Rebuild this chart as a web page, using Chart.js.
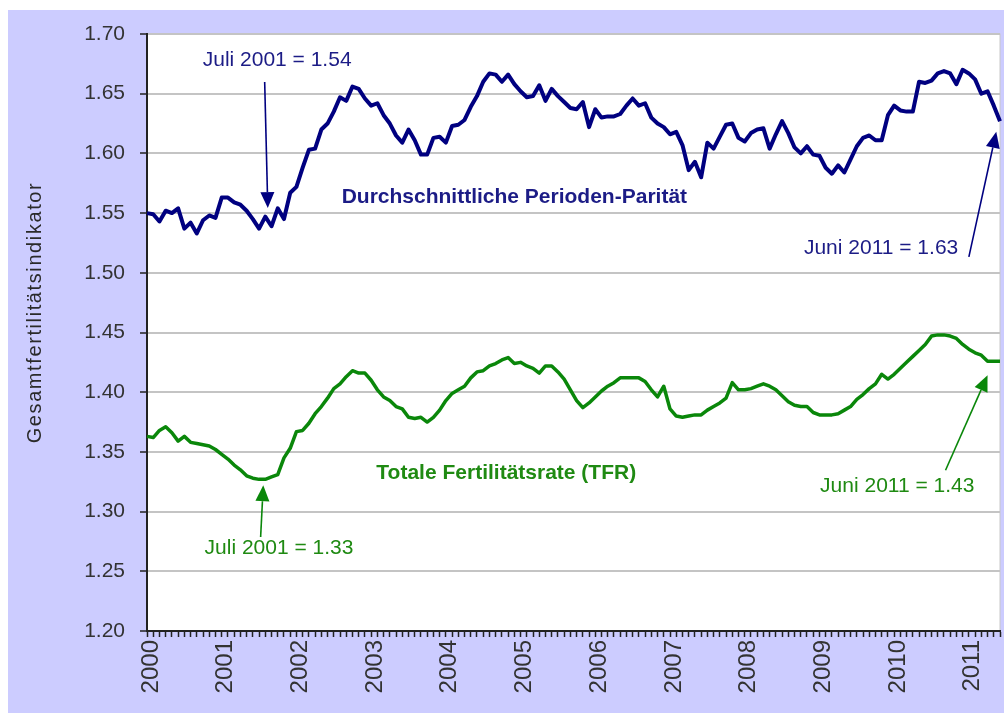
<!DOCTYPE html>
<html>
<head>
<meta charset="utf-8">
<script src="https://cdn.jsdelivr.net/npm/chart.js@4"></script>
<style>
  html, body { margin: 0; padding: 0; background: #fff; }
  #wrap { width: 1004px; height: 713px; }
</style>
</head>
<body>
<div id="wrap"><canvas id="myChart" width="1004" height="713"></canvas></div>
<script>
// ============== data ==============
const years = ["2000", "2001", "2002", "2003", "2004", "2005", "2006", "2007", "2008", "2009", "2010", "2011"];
const monthNames = ["01", "02", "03", "04", "05", "06", "07", "08", "09", "10", "11", "12"];
const lastMonth = "2011-06";

// Durchschnittliche Perioden-Parität, monthly Jan 2000 - Jun 2011
const parity = [
  1.550, 1.549, 1.543, 1.552, 1.550, 1.554, 1.537, 1.542, 1.533, 1.544, 1.548, 1.546,
  1.563, 1.563, 1.559, 1.557, 1.552, 1.545, 1.537, 1.547, 1.539, 1.554, 1.545, 1.567,
  1.572, 1.588, 1.603, 1.604, 1.620, 1.625, 1.635, 1.647, 1.644, 1.656, 1.654, 1.646,
  1.640, 1.642, 1.632, 1.625, 1.615, 1.609, 1.620, 1.611, 1.599, 1.599, 1.613, 1.614,
  1.609, 1.623, 1.624, 1.628, 1.639, 1.648, 1.660, 1.667, 1.666, 1.660, 1.666, 1.658,
  1.652, 1.647, 1.648, 1.657, 1.644, 1.654, 1.648, 1.643, 1.638, 1.637, 1.643, 1.622,
  1.637, 1.630, 1.631, 1.631, 1.633, 1.640, 1.646, 1.640, 1.642, 1.630, 1.625, 1.622,
  1.616, 1.618, 1.607, 1.586, 1.593, 1.580, 1.609, 1.604, 1.614, 1.624, 1.625, 1.613,
  1.610, 1.617, 1.620, 1.621, 1.604, 1.616, 1.627, 1.617, 1.605, 1.600, 1.606, 1.599,
  1.598, 1.588, 1.583, 1.590, 1.584, 1.595, 1.606, 1.613, 1.615, 1.611, 1.611, 1.632,
  1.640, 1.636, 1.635, 1.635, 1.660, 1.659, 1.661, 1.667, 1.669, 1.667, 1.658, 1.670,
  1.667, 1.662, 1.650, 1.652, 1.640, 1.627
];

// Totale Fertilitätsrate (TFR)
const tfr = [
  1.363, 1.362, 1.368, 1.371, 1.366, 1.359, 1.363, 1.358, 1.357, 1.356, 1.355, 1.352,
  1.348, 1.344, 1.339, 1.335, 1.330, 1.328, 1.327, 1.327, 1.329, 1.331, 1.345, 1.353,
  1.367, 1.368, 1.374, 1.382, 1.388, 1.395, 1.403, 1.407, 1.413, 1.418, 1.416, 1.416,
  1.410, 1.402, 1.396, 1.393, 1.388, 1.386, 1.379, 1.378, 1.379, 1.375, 1.379, 1.385,
  1.393, 1.399, 1.402, 1.405, 1.412, 1.417, 1.418, 1.422, 1.424, 1.427, 1.429, 1.424,
  1.425, 1.422, 1.420, 1.416, 1.422, 1.422, 1.417, 1.411, 1.402, 1.393, 1.387, 1.391,
  1.396, 1.401, 1.405, 1.408, 1.412, 1.412, 1.412, 1.412, 1.409, 1.402, 1.396, 1.405,
  1.386, 1.380, 1.379, 1.380, 1.381, 1.381, 1.385, 1.388, 1.391, 1.395, 1.408, 1.402,
  1.402, 1.403, 1.405, 1.407, 1.405, 1.402, 1.397, 1.392, 1.389, 1.388, 1.388, 1.383,
  1.381, 1.381, 1.381, 1.382, 1.385, 1.388, 1.394, 1.398, 1.403, 1.407, 1.415, 1.411,
  1.415, 1.420, 1.425, 1.430, 1.435, 1.440, 1.447, 1.448, 1.448, 1.447, 1.445, 1.440,
  1.436, 1.433, 1.431, 1.426, 1.426, 1.426
];

const yTicks = ["1.20", "1.25", "1.30", "1.35", "1.40", "1.45", "1.50", "1.55", "1.60", "1.65", "1.70"];
const yTitle = "Gesamtfertilitätsindikator";

// text notes, placed at (month index, value)
const noteTexts = ["Juli 2001 = 1.54", "Durchschnittliche Perioden-Parität", "Juni 2011 = 1.63",
                   "Totale Fertilitätsrate (TFR)", "Juli 2001 = 1.33", "Juni 2011 = 1.43"];
const noteAt = [[20.9, 1.673], [59.0, 1.5586], [117.9, 1.5157],
                [57.7, 1.3277], [21.2, 1.2642], [120.5, 1.3164]];
// arrows: tail -> tip
const arrowFrom = [[18.9, 1.6598], [132.0, 1.5134], [18.25, 1.2787], [128.25, 1.3346]];
const arrowTo = [[19.4, 1.5542], [136.4, 1.6181], [18.67, 1.3221], [135.0, 1.4142]];

// ============== styles ==============
const navy = "#000080";
const navyText = "#1c1c86";
const green = "#0a870a";
const greenText = "#1f8a12";
const fontFam = "'Liberation Sans', Arial, sans-serif";

const months = [];
years.forEach((y) => {
  monthNames.forEach((m) => {
    if (months.length && months[months.length - 1] === lastMonth) return;
    months.push(y + "-" + m);
  });
});

const noteStyle = [
  { color: navyText, bold: false },
  { color: navyText, bold: true },
  { color: navyText, bold: false },
  { color: greenText, bold: true },
  { color: greenText, bold: false },
  { color: greenText, bold: false },
];
const arrowColor = [navy, navy, green, green];

const backdrop = {
  id: "backdrop",
  beforeDraw(chart) {
    const { ctx, chartArea } = chart;
    ctx.save();
    ctx.fillStyle = "#ffffff";
    ctx.fillRect(0, 0, chart.width, chart.height);
    ctx.fillStyle = "#ccccff";
    ctx.fillRect(8, 10, chart.width - 8, chart.height - 10);
    ctx.fillStyle = "#ffffff";
    ctx.fillRect(chartArea.left, chartArea.top, chartArea.right - chartArea.left, chartArea.bottom - chartArea.top);
    ctx.strokeStyle = "#c8c8c8";
    ctx.lineWidth = 1;
    ctx.strokeRect(chartArea.left, chartArea.top, chartArea.right - chartArea.left, chartArea.bottom - chartArea.top);
    ctx.restore();
  },
};

function drawArrow(ctx, x1, y1, x2, y2, color) {
  const ang = Math.atan2(y2 - y1, x2 - x1);
  const hl = 16, hw = 7;
  const bx = x2 - hl * Math.cos(ang);
  const by = y2 - hl * Math.sin(ang);
  ctx.strokeStyle = color;
  ctx.fillStyle = color;
  ctx.lineWidth = 1.6;
  ctx.beginPath();
  ctx.moveTo(x1, y1);
  ctx.lineTo(bx, by);
  ctx.stroke();
  ctx.beginPath();
  ctx.moveTo(x2, y2);
  ctx.lineTo(bx + hw * Math.sin(ang), by - hw * Math.cos(ang));
  ctx.lineTo(bx - hw * Math.sin(ang), by + hw * Math.cos(ang));
  ctx.closePath();
  ctx.fill();
}

const notes = {
  id: "notes",
  afterDatasetsDraw(chart) {
    const { ctx } = chart;
    const xs = chart.scales.x, ys = chart.scales.y;
    ctx.save();
    noteTexts.forEach((t, i) => {
      const st = noteStyle[i];
      ctx.font = (st.bold ? "bold " : "") + "21px " + fontFam;
      ctx.fillStyle = st.color;
      ctx.textAlign = "center";
      ctx.textBaseline = "alphabetic";
      ctx.fillText(t, xs.getPixelForValue(noteAt[i][0]), ys.getPixelForValue(noteAt[i][1]));
    });
    arrowFrom.forEach((f, i) => {
      drawArrow(ctx,
        xs.getPixelForValue(f[0]), ys.getPixelForValue(f[1]),
        xs.getPixelForValue(arrowTo[i][0]), ys.getPixelForValue(arrowTo[i][1]),
        arrowColor[i]);
    });
    // y axis title
    const midY = (chart.chartArea.top + chart.chartArea.bottom) / 2 - 20;
    ctx.translate(35, midY);
    ctx.rotate(-Math.PI / 2);
    ctx.font = "20px " + fontFam;
    ctx.fillStyle = "#2a2a2a";
    ctx.textAlign = "center";
    ctx.textBaseline = "middle";
    if ("letterSpacing" in ctx) ctx.letterSpacing = "1.6px";
    ctx.fillText(yTitle, 0, 0);
    ctx.restore();
  },
};

const ctx = document.getElementById("myChart").getContext("2d");
new Chart(ctx, {
  type: "line",
  data: {
    labels: months,
    datasets: [
      {
        label: "Durchschnittliche Perioden-Parität",
        data: parity,
        borderColor: navy,
        borderWidth: 4,
        pointRadius: 0,
        tension: 0,
        borderJoinStyle: "round",
      },
      {
        label: "Totale Fertilitätsrate (TFR)",
        data: tfr,
        borderColor: green,
        borderWidth: 3.5,
        pointRadius: 0,
        tension: 0,
        borderJoinStyle: "round",
      },
    ],
  },
  options: {
    responsive: false,
    animation: false,
    layout: { padding: { top: 34, right: 4, left: 0, bottom: 0 } },
    plugins: { legend: { display: false }, tooltip: { enabled: false } },
    scales: {
      x: {
        type: "category",
        offset: false,
        afterFit: (scale) => {
          scale.height = 82;
          scale.paddingLeft = 0;
          scale.paddingRight = 0;
        },
        grid: { drawOnChartArea: false, drawTicks: true, tickLength: 6, tickColor: "#222", tickWidth: 1.5 },
        border: { color: "#222", width: 2 },
        ticks: {
          autoSkip: false,
          maxRotation: 90,
          minRotation: 90,
          padding: 3,
          labelOffset: 4,
          color: "#333",
          font: { family: fontFam, size: 24 },
          callback: (v, i) => (months[i].endsWith("-01") ? months[i].slice(0, 4) : ""),
        },
      },
      y: {
        min: 1.2,
        max: 1.7,
        afterFit: (scale) => { scale.width = 147; },
        afterBuildTicks: (scale) => { scale.ticks = yTicks.map((t) => ({ value: parseFloat(t) })); },
        grid: { color: "#c4c4c4", lineWidth: 2, tickLength: 7, tickColor: "#222", tickWidth: 1.5 },
        border: { color: "#222", width: 2 },
        ticks: {
          padding: 15,
          color: "#333",
          font: { family: fontFam, size: 21 },
          callback: (v) => v.toFixed(2),
        },
      },
    },
  },
  plugins: [backdrop, notes],
});
</script>
</body>
</html>
